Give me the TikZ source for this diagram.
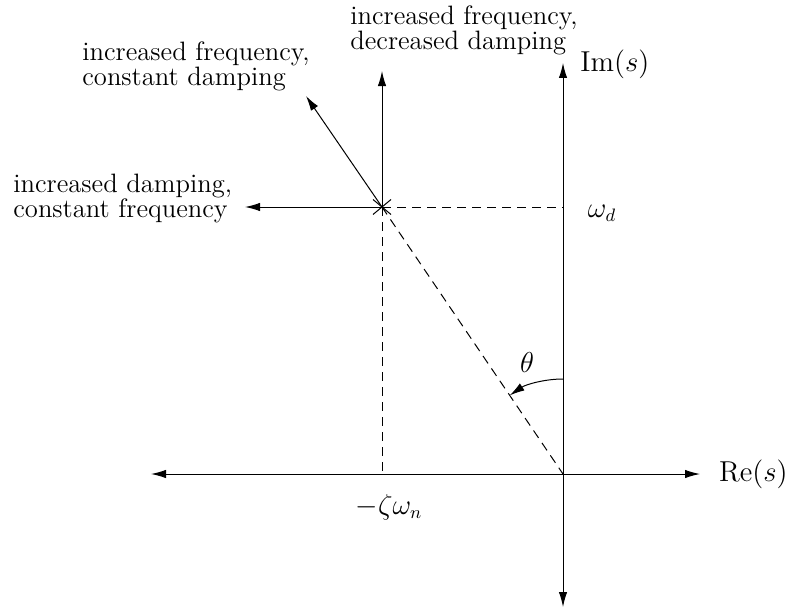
\documentclass[tikz,border=0pt]{standalone}
\usetikzlibrary{arrows.meta,calc}
\begin{document}
\begin{tikzpicture}[x=0.5pt,y=-0.5pt,
  every node/.style={font=\fontsize{13.3}{12.5}\selectfont, inner sep=0pt},
  ln/.style={line width=0.5pt},
  tip/.style={-{Latex[length=7.5pt,width=4.2pt]}},
  dtip/.style={{Latex[length=7.5pt,width=4.2pt]}-{Latex[length=7.5pt,width=4.2pt]}},
  dsh/.style={line width=0.5pt, dash pattern=on 4.5pt off 3pt},
  lbl/.style={align=left, anchor=base west}]
\useasboundingbox (0,0) rectangle (790,610);
% key points
\coordinate (O) at (563,474);
\coordinate (P) at (382,207);
\coordinate (ReL) at (151,474);
\coordinate (ReR) at (700,474);
\coordinate (ImT) at (563,63);
\coordinate (ImB) at (563,607);
\coordinate (Wd) at (563,207);
\coordinate (Zn) at (382,474);
\coordinate (Aleft) at (245,207);
\coordinate (Aup) at (382,71);
\coordinate (Adiag) at (306,96);
% axes
\draw[ln,dtip] (ReL) -- (ReR);
\draw[ln,dtip] (ImB) -- (ImT);
% dashed guides
\draw[dsh] (P) -- (Wd);
\draw[dsh] (P) -- (Zn);
\draw[dsh] (P) -- (O);
% pole cross
\draw[ln] ($(P)+(-9,-7.5)$) -- ($(P)+(9,7.5)$);
\draw[ln] ($(P)+(-9,7.5)$) -- ($(P)+(9,-7.5)$);
% direction arrows
\draw[ln,tip] (P) -- (Aleft);
\draw[ln,tip] (P) -- (Aup);
\draw[ln,tip] (P) -- (Adiag);
% theta arc
\draw[ln,tip] ($(O)+(0,-95)$) arc[start angle=-90, end angle=-124.1, radius=95];
% labels
\node[anchor=east] (re) at (788,474) {$\mathrm{Re}(s)$};
\node[anchor=west] (im) at (580,64) {$\mathrm{Im}(s)$};
\node (wd) at (602,213) {$\omega_d$};
\node (zn) at (389,507) {$-\zeta\omega_n$};
\node (th) at (527,362) {$\theta$};
\node[lbl] (l1) at (350,50) {increased frequency,\\decreased damping};
\node[lbl] (l2) at (82,85) {increased frequency,\\constant damping};
\node[lbl] (l3) at (13,217) {increased damping,\\constant frequency};
\end{tikzpicture}
\end{document}
